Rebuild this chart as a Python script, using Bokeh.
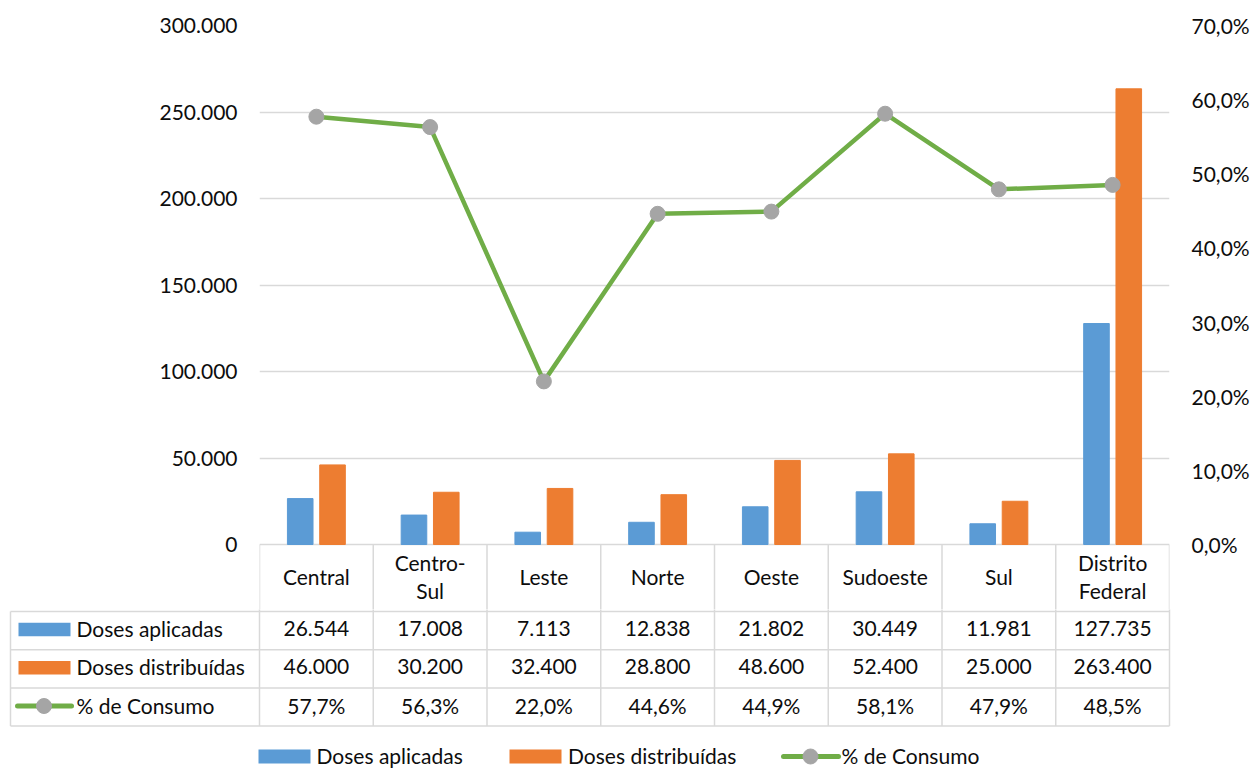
import numpy as np
from bokeh.plotting import figure
from bokeh.models import ColumnDataSource, FactorRange, Range1d, LinearAxis, FixedTicker
from bokeh.transform import dodge
from bokeh.layouts import column
from bokeh.core.properties import value
from bokeh.embed import file_html
from bokeh.resources import INLINE

# ---------------- data ----------------
categories = ["Central", "Centro-Sul", "Leste", "Norte", "Oeste", "Sudoeste", "Sul", "Distrito Federal"]
header_labels = ["Central", "Centro-\nSul", "Leste", "Norte", "Oeste", "Sudoeste", "Sul", "Distrito\nFederal"]
doses_aplicadas = [26544, 17008, 7113, 12838, 21802, 30449, 11981, 127735]
doses_distribuidas = [46000, 30200, 32400, 28800, 48600, 52400, 25000, 263400]
pct_consumo = [57.7, 56.3, 22.0, 44.6, 44.9, 58.1, 47.9, 48.5]
series_names = ["Doses aplicadas", "Doses distribuídas", "% de Consumo"]
left_ticks = [0, 50000, 100000, 150000, 200000, 250000, 300000]
left_tick_labels = ["0", "50.000", "100.000", "150.000", "200.000", "250.000", "300.000"]
right_ticks = [0, 10, 20, 30, 40, 50, 60, 70]
right_tick_labels = ["0,0%", "10,0%", "20,0%", "30,0%", "40,0%", "50,0%", "60,0%", "70,0%"]

# ---------------- style / layout ----------------
BLUE, ORANGE, GREEN, GRAY = "#5b9bd5", "#ed7d31", "#70ad47", "#a5a5a5"
GRID = "#d9d9d9"
TXT = "#0d0d0d"
FONT = "Lato"
FS = "21px"
TEXT_DY = -2                          # small optical correction for text centring

W = 1254
PLOT_L, PLOT_R = 259, 1169           # x of plot area
TOP, ZERO_Y, CHART_H = 25, 544, 609  # y: top of area, zero line, bottom of chart canvas
TABLE_H = 769 - CHART_H
CAT_W = (PLOT_R - PLOT_L) / len(categories)
Y_MAX, P_MAX = left_ticks[-1], right_ticks[-1]
UNIT = Y_MAX / (ZERO_Y - TOP)        # data units per pixel
y_start = -(CHART_H - ZERO_Y) * UNIT
p_start = y_start * P_MAX / Y_MAX

def chart_y(page_y):
    return -(page_y - ZERO_Y) * UNIT

def fmt_int(v):
    return f"{v:,}".replace(",", ".")

def fmt_pct(v):
    return f"{v:.1f}%".replace(".", ",")

src = ColumnDataSource(dict(cat=categories, aplic=doses_aplicadas,
                            distr=doses_distribuidas, pct=pct_consumo))

txt_kw = dict(text_font=value(FONT), text_font_size=value(FS), text_color=TXT,
              text_baseline="middle")

# ---------------- chart (with the header row of the data table) ----------------
p = figure(width=W, height=CHART_H, x_range=FactorRange(factors=categories),
           y_range=Range1d(y_start, Y_MAX), x_axis_location=None,
           toolbar_location=None, output_backend="svg",
           min_border_left=PLOT_L, min_border_right=W - PLOT_R,
           min_border_top=TOP, min_border_bottom=0, outline_line_color=None,
           frame_align=False)
p.extra_y_ranges = {"pct": Range1d(p_start, P_MAX)}

lt = FixedTicker(ticks=left_ticks)
ax = p.yaxis[0]
ax.ticker = lt
ax.major_label_overrides = dict(zip(left_ticks, left_tick_labels))
ax.major_label_standoff = 22
rax = LinearAxis(y_range_name="pct", ticker=FixedTicker(ticks=right_ticks),
                 major_label_overrides=dict(zip(right_ticks, right_tick_labels)),
                 major_label_standoff=22)
p.add_layout(rax, "right")
for a in (ax, rax):
    a.axis_line_color = None
    a.major_tick_line_color = None
    a.minor_tick_line_color = None
    a.major_tick_out = 0
    a.major_tick_in = 0
    a.minor_tick_out = 0
    a.minor_tick_in = 0
    a.major_label_text_font = FONT
    a.major_label_text_font_size = FS
    a.major_label_text_color = TXT
p.ygrid.ticker = lt
p.ygrid.grid_line_color = GRID
p.ygrid.grid_line_width = 1.5
p.xgrid.visible = False

# header-row cell borders below the zero line
p.segment(x0=dodge("cat", -0.5, range=p.x_range), y0=0,
          x1=dodge("cat", -0.5, range=p.x_range), y1=y_start,
          source=src, line_color=GRID, line_width=1.5)
p.segment(x0=dodge("cat", 0.5, range=p.x_range), y0=0,
          x1=dodge("cat", 0.5, range=p.x_range), y1=y_start,
          source=ColumnDataSource(dict(cat=categories[-1:])), line_color=GRID, line_width=1.5)

# header labels
hc, hy, ht = [], [], []
for cat, lab in zip(categories, header_labels):
    parts = lab.split("\n")
    if len(parts) == 1:
        hc.append(cat); hy.append(chart_y(578 + TEXT_DY)); ht.append(parts[0])
    else:
        for j, part in enumerate(parts):
            hc.append(cat); hy.append(chart_y(578 + TEXT_DY + (j - 0.5) * 28.5)); ht.append(part)
p.text(x=hc, y=hy, text=ht, text_align="center", **txt_kw)

p.vbar(x=dodge("cat", -0.142, range=p.x_range), top="aplic", width=0.225, source=src,
       fill_color=BLUE, line_color=BLUE)
p.vbar(x=dodge("cat", 0.142, range=p.x_range), top="distr", width=0.225, source=src,
       fill_color=ORANGE, line_color=ORANGE)
p.line(x="cat", y="pct", source=src, y_range_name="pct", line_color=GREEN,
       line_width=4.5, line_join="round")
p.scatter(x="cat", y="pct", source=src, y_range_name="pct", size=15,
          fill_color=GRAY, line_color=GRAY)

n = len(categories)

# ---------------- data table rows + legend ----------------
def px(page_x):
    return (page_x - PLOT_L) / CAT_W
def py(page_y):
    return page_y - CHART_H

t = figure(width=W, height=TABLE_H,
           x_range=Range1d(-PLOT_L / CAT_W, (W - PLOT_L) / CAT_W),
           y_range=Range1d(TABLE_H, 0), x_axis_location=None, y_axis_location=None,
           toolbar_location=None, output_backend="svg", min_border=0,
           outline_line_color=None, frame_align=False)
t.grid.visible = False

header_bottom = py(611)
row_h = 38.2
row_lines = [header_bottom + k * row_h for k in range(4)]
x_left = px(10)

# vertical borders
t.segment(x0=list(range(n + 1)), y0=[-10] * (n + 1), x1=list(range(n + 1)),
          y1=[row_lines[-1]] * (n + 1), line_color=GRID, line_width=1.5)
t.segment(x0=[x_left], y0=[header_bottom], x1=[x_left], y1=[row_lines[-1]],
          line_color=GRID, line_width=1.5)
# horizontal borders
t.segment(x0=[x_left] * 4, y0=row_lines, x1=[n] * 4, y1=row_lines,
          line_color=GRID, line_width=1.5)

# values
row_mid = [(row_lines[k] + row_lines[k + 1]) / 2 for k in range(3)]
row_txt = [m + TEXT_DY for m in row_mid]
rows = [[fmt_int(v) for v in doses_aplicadas],
        [fmt_int(v) for v in doses_distribuidas],
        [fmt_pct(v) for v in pct_consumo]]
for k, vals in enumerate(rows):
    t.text(x=[i + 0.5 for i in range(n)], y=[row_txt[k]] * n, text=vals,
           text_align="center", **txt_kw)

# row headers with keys
t.text(x=[px(76)] * 3, y=row_txt, text=series_names, text_align="left", **txt_kw)
t.rect(x=[px(44)] * 2, y=[m - 1 for m in row_mid[:2]], width=52 / CAT_W, height=13.5,
       fill_color=[BLUE, ORANGE], line_color=None)
t.segment(x0=[px(17)], y0=[row_mid[2] - 1], x1=[px(71)], y1=[row_mid[2] - 1],
          line_color=GREEN, line_width=5, line_cap="round")
t.scatter(x=[px(43.5)], y=[row_mid[2] - 1], size=15, fill_color=GRAY, line_color=GRAY)

# bottom legend
ly = py(756)
t.rect(x=[px(284), px(535)], y=[ly, ly], width=52 / CAT_W, height=14,
       fill_color=[BLUE, ORANGE], line_color=None)
t.segment(x0=[px(783)], y0=[ly], x1=[px(838)], y1=[ly], line_color=GREEN,
          line_width=5, line_cap="round")
t.scatter(x=[px(810)], y=[ly], size=15, fill_color=GRAY, line_color=GRAY)
t.text(x=[px(316), px(567.5), px(841)], y=[ly + TEXT_DY / 2] * 3, text=series_names,
       text_align="left", **txt_kw)

layout = column(p, t, spacing=0)
open("out.html", "w").write(file_html(layout, INLINE))
